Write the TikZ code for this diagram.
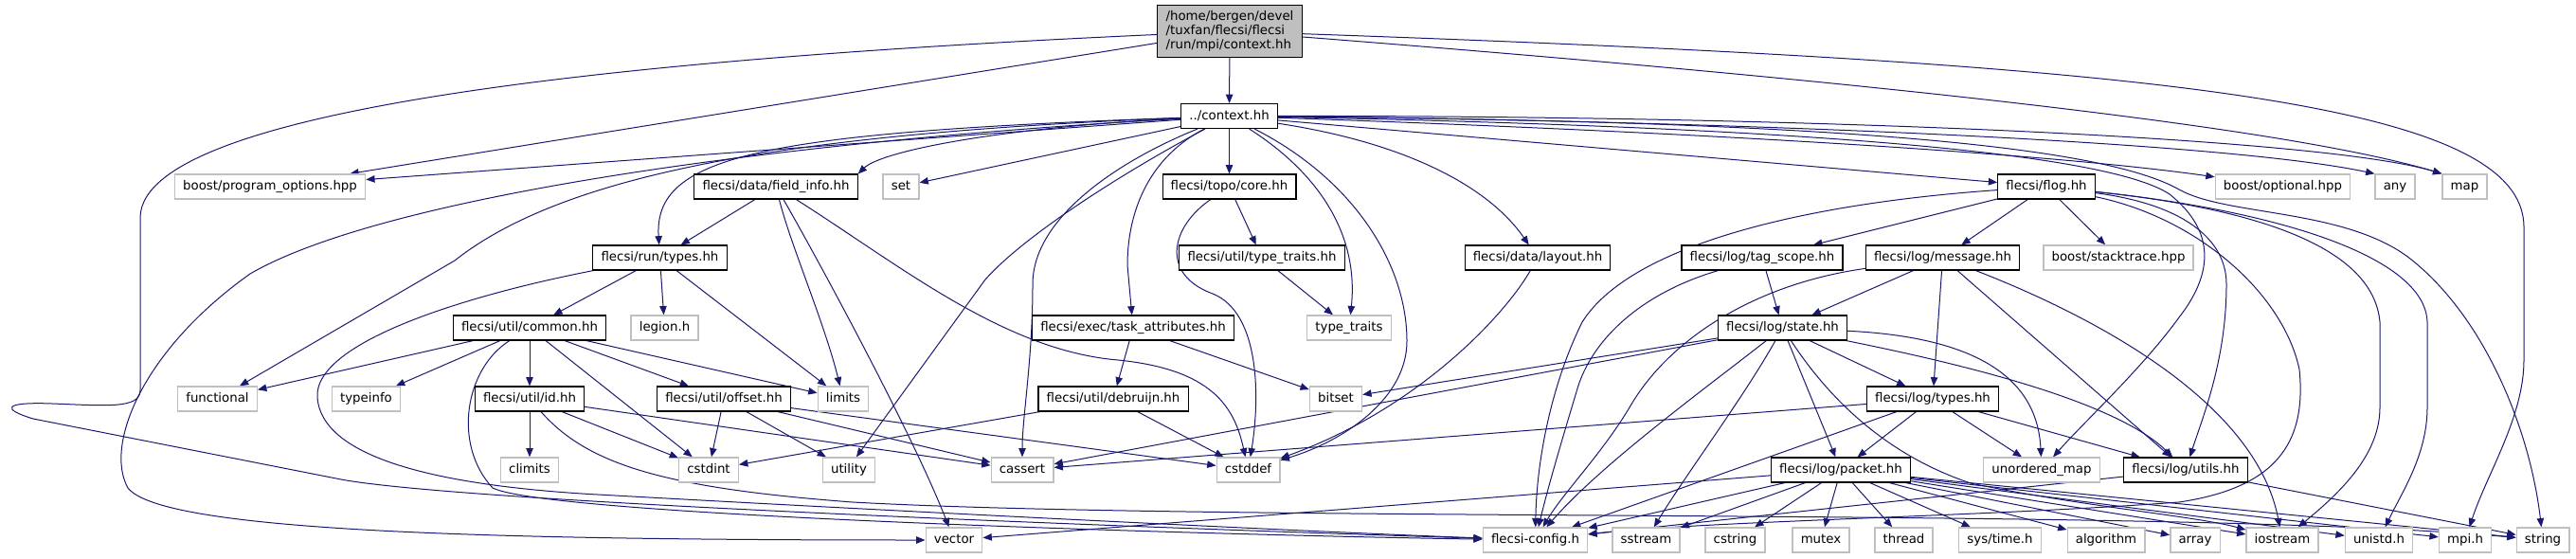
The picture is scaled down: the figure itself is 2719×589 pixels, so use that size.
\documentclass[tikz,border=0pt]{standalone}
\usepackage{fontspec}
\setmainfont{DejaVu Sans}
\usetikzlibrary{arrows.meta}
\pgfdeclarelayer{bg}
\pgfsetlayers{bg,main}
\definecolor{edgeblue}{RGB}{25,25,112}
\definecolor{extgray}{RGB}{191,191,191}
\begin{document}
\begin{tikzpicture}[x=0.75pt,y=-0.75pt,
  font=\fontsize{10}{12}\selectfont,
  doc/.style={draw=black, fill=white, line width=0.8pt, inner xsep=6.5pt, inner ysep=0pt,
    minimum height=19.5pt, text height=7.4pt, text depth=2.1pt},
  ext/.style={draw=extgray, fill=white, line width=1pt, inner xsep=6.5pt, inner ysep=0pt,
    minimum height=19.5pt, text height=7.4pt, text depth=2.1pt},
  topnode/.style={draw=black, fill=extgray, line width=0.8pt, inner xsep=6.5pt, inner ysep=2pt,
    minimum height=41.25pt, align=left, font=\fontsize{10}{11.25}\selectfont},
  edg/.style={draw=edgeblue, line width=0.75pt, -{Triangle[length=7pt,width=5.6pt]}}]
\useasboundingbox (0,0) rectangle (2719,589);

% ---------- nodes ----------
\node[topnode] (T) at (1298,33) {/home/bergen/devel\\/tuxfan/flecsi/flecsi\\/run/mpi/context.hh};
\node[doc] (ctx) at (1297.5,122.5) {../context.hh};

\node[ext] (bpo) at (285,197) {boost/program\_options.hpp};
\node[doc] (finfo) at (819,197) {flecsi/data/field\_info.hh};
\node[ext] (set) at (951,197) {set};
\node[doc] (core) at (1297.5,197) {flecsi/topo/core.hh};
\node[doc] (flog) at (2160,197) {flecsi/flog.hh};
\node[ext] (bopt) at (2409.5,197) {boost/optional.hpp};
\node[ext] (any) at (2528,197) {any};
\node[ext] (map) at (2601.5,197) {map};

\node[doc] (rtypes) at (696.5,272) {flecsi/run/types.hh};
\node[doc] (tth) at (1332,272) {flecsi/util/type\_traits.hh};
\node[doc] (layout) at (1623,272) {flecsi/data/layout.hh};
\node[doc] (tag) at (1860,272) {flecsi/log/tag\_scope.hh};
\node[doc] (msg) at (2050.5,272) {flecsi/log/message.hh};
\node[ext] (stack) at (2236,272) {boost/stacktrace.hpp};

\node[doc] (common) at (559,346) {flecsi/util/common.hh};
\node[ext] (legion) at (701.5,346) {legion.h};
\node[doc] (task) at (1196,346) {flecsi/exec/task\_attributes.hh};
\node[ext] (tt) at (1424,346) {type\_traits};
\node[doc] (state) at (1881.5,346) {flecsi/log/state.hh};

\node[ext] (func) at (229.5,421) {functional};
\node[ext] (tinfo) at (386.5,421) {typeinfo};
\node[doc] (id) at (559,421) {flecsi/util/id.hh};
\node[doc] (offset) at (764,421) {flecsi/util/offset.hh};
\node[ext] (limits) at (890,421) {limits};
\node[doc] (debr) at (1175,421) {flecsi/util/debruijn.hh};
\node[ext] (bitset) at (1410,421) {bitset};
\node[doc] (ltypes) at (2040,421) {flecsi/log/types.hh};

\node[ext] (climits) at (559,496) {climits};
\node[ext] (cstdint) at (748,496) {cstdint};
\node[ext] (utility) at (896,496) {utility};
\node[ext] (cassert) at (1079,496) {cassert};
\node[ext] (cstddef) at (1317.5,496) {cstddef};
\node[doc] (packet) at (1943,496) {flecsi/log/packet.hh};
\node[ext] (umap) at (2155,496) {unordered\_map};
\node[doc] (utils) at (2307,496) {flecsi/log/utils.hh};

\node[ext] (vector) at (1007,570) {vector};
\node[ext] (fconf) at (1620.5,570) {flecsi-config.h};
\node[ext] (sstream) at (1737.5,570) {sstream};
\node[ext] (cstring) at (1831.5,570) {cstring};
\node[ext] (mutex) at (1922,570) {mutex};
\node[ext] (thread) at (2009.5,570) {thread};
\node[ext] (systime) at (2111,570) {sys/time.h};
\node[ext] (algo) at (2223,570) {algorithm};
\node[ext] (array) at (2317,570) {array};
\node[ext] (iostream) at (2409,570) {iostream};
\node[ext] (unistd) at (2511,570) {unistd.h};
\node[ext] (mpi) at (2602,570) {mpi.h};
\node[ext] (string) at (2684,570) {string};

% ---------- edges ----------
\begin{pgfonlayer}{bg}
% top node
\draw[edg] (T) -- (ctx);
\draw[edg] (T) -- (bpo);
\draw[edg] (T) .. controls (700,60) and (148,110) .. (148,230) -- (148,412)
  .. controls (148,432) and (110,428) .. (55,426) .. controls (2,424) and (2,432) .. (35,442)
  -- (360,506) .. controls (500,532) and (1300,560) .. (fconf);
\draw[edg] (T) .. controls (1900,80) and (2400,130) .. (map.north west);
\draw[edg] (T) .. controls (2300,68) and (2664,110) .. (2664,240) -- (2664,380)
  .. controls (2664,440) and (2625,500) .. (mpi);

% ../context.hh
\draw[edg] (ctx) -- (bpo);
\draw[edg] (ctx) -- (set);
\draw[edg] (ctx) .. controls (850,140) and (600,180) .. (480,275) -- (func);
\draw[edg] (ctx) .. controls (800,140) and (690,165) .. (rtypes);
\draw[edg] (ctx) .. controls (1050,135) and (930,160) .. (finfo.north east);
\draw[edg] (ctx) .. controls (800,150) and (400,210) .. (264,289)
  .. controls (150,370) and (110,470) .. (135,515) .. controls (170,560) and (500,570) .. (vector);
\draw[edg] (ctx) -- (core);
\draw[edg] (ctx) .. controls (1215,165) and (1190,220) .. (1190,280) -- (task);
\draw[edg] (ctx) .. controls (1180,185) and (1080,250) .. (1040,295) -- (utility.60);
\draw[edg] (ctx) .. controls (1180,170) and (1090,230) .. (1090,300)
  .. controls (1090,380) and (1079,440) .. (cassert);
\draw[edg] (ctx) .. controls (1395,185) and (1434,250) .. (tt);
\draw[edg] (ctx) .. controls (1430,190) and (1485,280) .. (1485,360)
  .. controls (1485,420) and (1420,465) .. (cstddef);
\draw[edg] (ctx) .. controls (1480,150) and (1570,195) .. (layout);
\draw[edg] (ctx) -- (flog);
\draw[edg] (ctx) .. controls (1750,138) and (2150,160) .. (bopt);
\draw[edg] (ctx) .. controls (1850,128) and (2350,150) .. (any.north west);
\draw[edg] (ctx) .. controls (1900,122) and (2450,145) .. (map.north west);
\draw[edg] (ctx) .. controls (1950,128) and (2220,155) .. (2300,200)
  .. controls (2350,228) and (2470,220) .. (2540,270) .. controls (2620,330) and (2670,450) .. (string);
\draw[edg] (ctx) .. controls (1950,135) and (2230,165) .. (2290,205)
  .. controls (2340,245) and (2335,290) .. (2300,335) .. controls (2260,390) and (2200,445) .. (umap);

% field_info
\draw[edg] (finfo) -- (rtypes);
\draw[edg] (finfo) .. controls (835,260) and (870,340) .. (limits);
\draw[edg] (finfo) .. controls (850,250) and (960,450) .. (vector);
\draw[edg] (finfo) .. controls (950,280) and (1060,370) .. (1180,380)
  .. controls (1280,390) and (1303,430) .. (cstddef);

% run/types
\draw[edg] (rtypes) -- (common);
\draw[edg] (rtypes) -- (legion);
\draw[edg] (rtypes) -- (limits);
\draw[edg] (rtypes) .. controls (500,310) and (330,360) .. (335,420)
  .. controls (340,480) and (450,512) .. (631,522) .. controls (900,537) and (1350,560) .. (fconf);

% util/common
\draw[edg] (common) -- (func);
\draw[edg] (common) -- (tinfo);
\draw[edg] (common) -- (id);
\draw[edg] (common) -- (cstdint);
\draw[edg] (common) -- (offset);
\draw[edg] (common) -- (limits);
\draw[edg] (common) .. controls (490,390) and (478,470) .. (520,515)
  .. controls (580,545) and (1300,565) .. (fconf);

% util/id
\draw[edg] (id) -- (climits);
\draw[edg] (id) -- (cstdint);
\draw[edg] (id) -- (cassert);
\draw[edg] (id) .. controls (620,490) and (700,515) .. (900,530)
  .. controls (1300,552) and (2300,535) .. (string);

% util/offset
\draw[edg] (offset) -- (cstdint);
\draw[edg] (offset) -- (utility);
\draw[edg] (offset) -- (cassert);
\draw[edg] (offset) -- (cstddef);

% topo/core, type_traits, task, debruijn, layout
\draw[edg] (core) -- (tth);
\draw[edg] (core) .. controls (1235,240) and (1225,290) .. (1280,310)
  .. controls (1330,330) and (1330,420) .. (cstddef);
\draw[edg] (tth) -- (tt);
\draw[edg] (task) -- (debr);
\draw[edg] (task) -- (bitset);
\draw[edg] (debr) -- (cstdint);
\draw[edg] (debr) -- (cstddef);
\draw[edg] (layout) .. controls (1590,330) and (1500,430) .. (cstddef);

% flog
\draw[edg] (flog) -- (tag);
\draw[edg] (flog) -- (msg);
\draw[edg] (flog) -- (stack);
\draw[edg] (flog) .. controls (1900,215) and (1720,260) .. (1670,340)
  .. controls (1640,400) and (1622,480) .. (fconf);
\draw[edg] (flog) .. controls (2300,215) and (2350,250) .. (2350,300)
  .. controls (2350,380) and (2325,440) .. (utils);
\draw[edg] (flog) .. controls (2320,230) and (2410,310) .. (2427,390)
  .. controls (2435,470) and (2400,515) .. (2300,530) .. controls (2100,545) and (1800,550) .. (fconf);
\draw[edg] (flog) .. controls (2380,220) and (2505,260) .. (2512,340) -- (2512,430)
  .. controls (2512,480) and (2470,520) .. (iostream);
\draw[edg] (flog) .. controls (2400,222) and (2560,270) .. (2562,340) -- (2562,430)
  .. controls (2562,480) and (2535,520) .. (unistd);

% log/tag_scope
\draw[edg] (tag) -- (state);
\draw[edg] (tag) .. controls (1730,310) and (1680,360) .. (1665,410)
  .. controls (1650,460) and (1635,510) .. (fconf);

% log/message
\draw[edg] (msg) .. controls (1850,300) and (1760,360) .. (1720,430)
  .. controls (1690,480) and (1650,520) .. (fconf);
\draw[edg] (msg) -- (state);
\draw[edg] (msg) -- (ltypes);
\draw[edg] (msg) -- (utils);
\draw[edg] (msg) .. controls (2200,330) and (2380,420) .. (iostream);

% log/state
\draw[edg] (state) -- (bitset);
\draw[edg] (state) -- (cassert);
\draw[edg] (state) .. controls (1800,410) and (1690,490) .. (fconf);
\draw[edg] (state) .. controls (1840,420) and (1780,500) .. (sstream);
\draw[edg] (state) -- (packet);
\draw[edg] (state) .. controls (1930,420) and (1990,480) .. (2080,510)
  .. controls (2200,535) and (2320,545) .. (iostream);
\draw[edg] (state) -- (ltypes);
\draw[edg] (state) .. controls (2050,380) and (2230,420) .. (utils);
\draw[edg] (state) .. controls (2070,355) and (2150,390) .. (umap);

% log/types
\draw[edg] (ltypes) -- (cassert);
\draw[edg] (ltypes) -- (fconf);
\draw[edg] (ltypes) -- (packet);
\draw[edg] (ltypes) -- (umap);
\draw[edg] (ltypes) -- (utils);

% log/packet
\draw[edg] (packet) -- (vector);
\draw[edg] (packet) -- (fconf);
\draw[edg] (packet) -- (sstream);
\draw[edg] (packet) -- (cstring);
\draw[edg] (packet) -- (mutex);
\draw[edg] (packet) -- (thread);
\draw[edg] (packet) -- (systime);
\draw[edg] (packet) -- (algo);
\draw[edg] (packet) -- (array);
\draw[edg] (packet) -- (iostream);
\draw[edg] (packet) -- (unistd);
\draw[edg] (packet) -- (mpi);
\draw[edg] (packet) -- (string);

% log/utils
\draw[edg] (utils) -- (string);
\draw[edg] (utils) -- (fconf);
\end{pgfonlayer}
\end{tikzpicture}
\end{document}
